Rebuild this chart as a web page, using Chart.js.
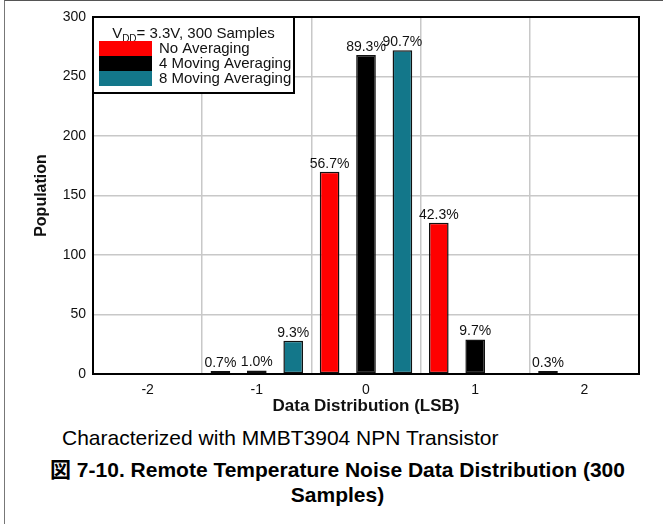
<!DOCTYPE html>
<html>
<head>
<meta charset="utf-8">
<script src="https://cdn.jsdelivr.net/npm/chart.js@4.4.1/dist/chart.umd.min.js"></script>
<style>
  html, body { margin: 0; padding: 0; background: #fff; }
  body { width: 663px; height: 524px; position: relative; overflow: hidden; font-family: "Liberation Sans", Arial, "Noto Sans CJK JP", sans-serif; color: #000; }
  #frame { position: absolute; left: 4px; top: 0; width: 700px; height: 600px; border-left: 1.5px solid #777; border-top: 1.5px solid #555; }
  #wrap { position: absolute; left: 0; top: 0; width: 663px; height: 420px; }
  #note { position: absolute; left: 62px; top: 426px; font-size: 21px; line-height: 24px; white-space: nowrap; }
  #caption { position: absolute; left: 0; top: 457px; width: 675px; text-align: center; font-weight: bold; font-size: 21px; line-height: 25px; }
</style>
</head>
<body>
<div id="frame"></div>
<div id="wrap"><canvas id="noiseChart"></canvas></div>
<div id="note">Characterized with MMBT3904 NPN Transistor</div>
<div id="caption">図 7-10. Remote Temperature Noise Data Distribution (300<br>Samples)</div>
<script>
// null = no samples in that bin (no bar drawn)
const categories = ['-2', '-1', '0', '1', '2'];
const noAveraging = [null, 2, 170, 127, 1];
const movingAvg4 = [null, 3, 268, 29, null];
const movingAvg8 = [null, 28, 272, null, null];
const totalSamples = 300;
const yTicks = [0, 50, 100, 150, 200, 250, 300];
const legendTitle = ['V', 'DD', '= 3.3V, 300 Samples'];

const FONT = '"Liberation Sans", Arial, sans-serif';

// labels over bars, plot frame and the boxed legend
const extras = {
    id: 'extras',
    afterDatasetsDraw(chart) {
        const { ctx, chartArea: a } = chart;
        ctx.save();

        ctx.font = '14px ' + FONT;
        ctx.fillStyle = '#111';
        ctx.textAlign = 'center';
        ctx.textBaseline = 'alphabetic';
        chart.data.datasets.forEach((ds, i) => {
            chart.getDatasetMeta(i).data.forEach((bar, j) => {
                const v = ds.data[j];
                if (!v) return;
                ctx.fillText((v / totalSamples * 100).toFixed(1) + '%', bar.x, bar.y - 4);
            });
        });

        ctx.strokeStyle = '#000';
        ctx.lineWidth = 2;
        ctx.strokeRect(a.left, a.top, a.right - a.left, a.bottom - a.top);

        // legend
        const bx = a.left, by = a.top, bw = 201, bh = 76;
        ctx.fillStyle = '#fff';
        ctx.fillRect(bx, by, bw, bh);
        ctx.strokeRect(bx, by, bw, bh);

        ctx.fillStyle = '#111';
        ctx.textAlign = 'left';
        ctx.font = '15px ' + FONT;
        const w1 = ctx.measureText(legendTitle[0]).width;
        const w3 = ctx.measureText(legendTitle[2]).width;
        ctx.font = '10px ' + FONT;
        const w2 = ctx.measureText(legendTitle[1]).width;
        let tx = bx + bw / 2 - (w1 + w2 + w3) / 2;
        const ty = by + 21;
        ctx.font = '15px ' + FONT;
        ctx.fillText(legendTitle[0], tx, ty);
        ctx.font = '10px ' + FONT;
        ctx.fillText(legendTitle[1], tx + w1, ty + 4);
        ctx.font = '15px ' + FONT;
        ctx.fillText(legendTitle[2], tx + w1 + w2, ty);

        ctx.textBaseline = 'middle';
        chart.data.datasets.forEach((ds, k) => {
            const ry = by + 24 + k * 15;
            ctx.fillStyle = ds.backgroundColor;
            ctx.fillRect(bx + 6, ry, 53, 15);
            ctx.fillStyle = '#111';
            ctx.fillText(ds.label, bx + 66, ry + 7.5);
        });

        ctx.restore();
    }
};

const noiseChart = new Chart(document.getElementById('noiseChart'), {
    type: 'bar',
    data: {
        labels: categories,
        datasets: [{
            label: 'No Averaging',
            data: noAveraging,
            backgroundColor: '#ff0000'
        }, {
            label: '4 Moving Averaging',
            data: movingAvg4,
            backgroundColor: '#000000'
        }, {
            label: '8 Moving Averaging',
            data: movingAvg8,
            backgroundColor: '#13778a'
        }]
    },
    options: {
        responsive: true,
        maintainAspectRatio: false,
        animation: false,
        categoryPercentage: 1.0,
        barPercentage: 0.54,
        borderColor: '#111',
        borderWidth: 1.5,
        borderSkipped: false,
        minBarLength: 3,
        layout: { padding: { top: 17, right: 24, left: 0, bottom: 0 } },
        plugins: {
            legend: { display: false },
            tooltip: { enabled: false }
        },
        scales: {
            x: {
                grid: { color: '#c8c8c8', lineWidth: 1.5, drawTicks: false, offset: true },
                border: { color: '#000', width: 2 },
                ticks: { padding: 8, color: '#111', font: { family: FONT, size: 14 } },
                title: {
                    display: true,
                    text: 'Data Distribution (LSB)',
                    color: '#111',
                    font: { family: FONT, size: 17, weight: 'bold' },
                    padding: { top: 0, bottom: 3 }
                },
                afterFit: s => { s.height = 46; }
            },
            y: {
                min: yTicks[0],
                max: yTicks[yTicks.length - 1],
                grid: { color: '#c8c8c8', lineWidth: 1.5, drawTicks: false },
                border: { color: '#000', width: 2 },
                ticks: { stepSize: yTicks[1] - yTicks[0], padding: 7, color: '#111', font: { family: FONT, size: 14 } },
                title: {
                    display: true,
                    text: 'Population',
                    color: '#111',
                    font: { family: FONT, size: 16, weight: 'bold' },
                    padding: { top: 32, bottom: 0 }
                },
                afterFit: s => { s.width = 93; }
            }
        }
    },
    plugins: [extras]
});
</script>
</body>
</html>
